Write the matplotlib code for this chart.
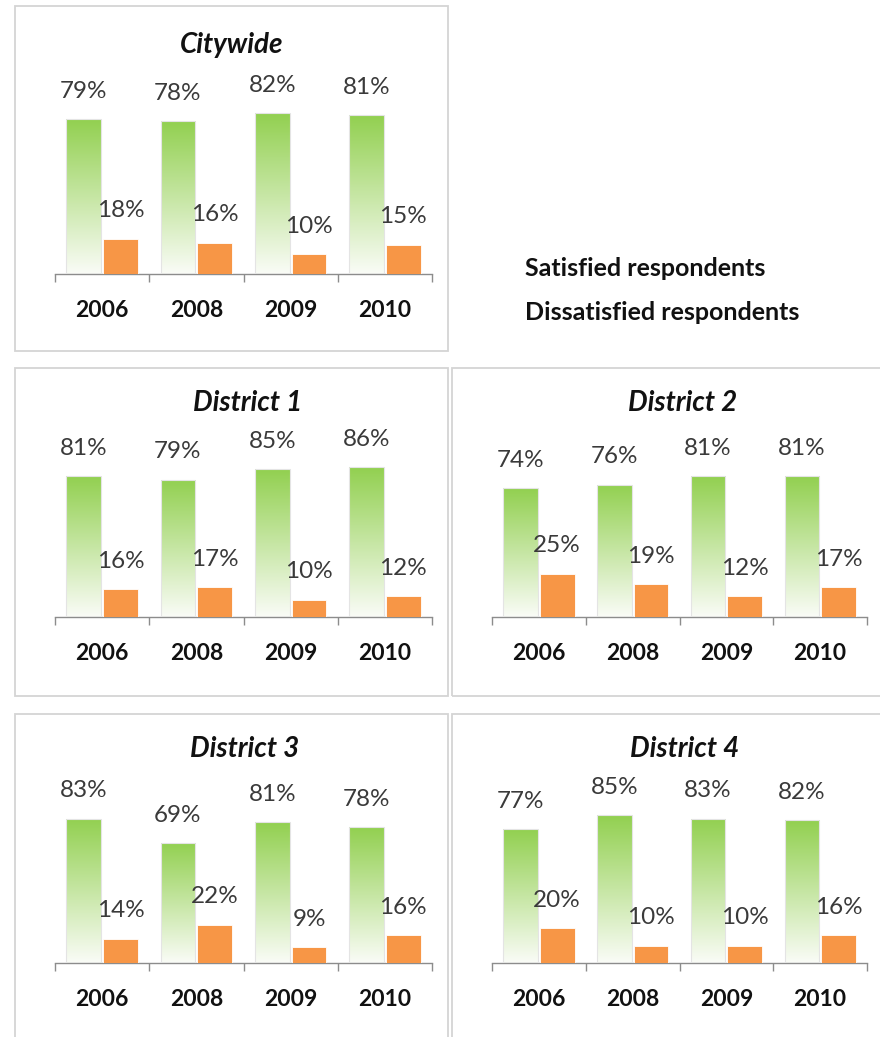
import numpy as np
import matplotlib
matplotlib.use("Agg")
import matplotlib.pyplot as plt
from matplotlib.colors import LinearSegmentedColormap
from matplotlib.patches import Rectangle

plt.rcParams['font.family'] = ['Lato', 'DejaVu Sans']

years = ['2006', '2008', '2009', '2010']
legend_labels = ['Satisfied respondents', 'Dissatisfied respondents']

satisfied_city = [79, 78, 82, 81]
dissatisfied_city = [18, 16, 10, 15]
satisfied_d1 = [81, 79, 85, 86]
dissatisfied_d1 = [16, 17, 10, 12]
satisfied_d2 = [74, 76, 81, 81]
dissatisfied_d2 = [25, 19, 12, 17]
satisfied_d3 = [83, 69, 81, 78]
dissatisfied_d3 = [14, 22, 9, 16]
satisfied_d4 = [77, 85, 83, 82]
dissatisfied_d4 = [20, 10, 10, 16]

W, H = 880, 1037
fig = plt.figure(figsize=(W / 100, H / 100), dpi=100)

green_fade = LinearSegmentedColormap.from_list('fade', ['#fafcf7', '#92d050'])
gradient = np.linspace(0, 1, 256).reshape(-1, 1)
ORANGE = '#f79646'


def fx(px):
    return px / W


def fy(py):
    return 1 - py / H


def frame(x0, y0, x1, y1):
    fig.patches.append(Rectangle((fx(x0), fy(y1)), fx(x1) - fx(x0), fy(y0) - fy(y1),
                                 transform=fig.transFigure, fill=False,
                                 edgecolor='#d4d4d4', lw=1.3))


def panel(title, sat, dis, left, right, base, px_per_pct, title_xy):
    top = base - 100 * px_per_pct
    ax = fig.add_axes([fx(left), fy(base), fx(right) - fx(left), fy(top) - fy(base)])
    x = np.arange(len(years))
    w = 0.37
    gbars = ax.bar(x - 0.195, sat, w, color='none', edgecolor='#e4e4e4', lw=0.8, zorder=3)
    for p in gbars:
        im = ax.imshow(gradient, extent=(p.get_x(), p.get_x() + p.get_width(), 0, p.get_height()),
                       origin='lower', aspect='auto', cmap=green_fade, zorder=2)
        im.set_clip_path(p)
    ax.bar(x + 0.195, dis, w, color=ORANGE, edgecolor='white', lw=0.6, zorder=3)

    for xi, v in zip(x - 0.195, sat):
        ax.annotate(f'{v}%', (xi, v), xytext=(0, 20), textcoords='offset points',
                    ha='center', va='center', fontsize=17.5, color='#3a3a3a', annotation_clip=False)
    for xi, v in zip(x + 0.195, dis):
        ax.annotate(f'{v}%', (xi, v), xytext=(0, 20), textcoords='offset points',
                    ha='center', va='center', fontsize=17.5, color='#3a3a3a', annotation_clip=False)
    for xi, yr in zip(x, years):
        ax.annotate(yr, (xi, 0), xycoords=('data', 'axes fraction'), xytext=(0, -26),
                    textcoords='offset points', ha='center', va='center',
                    fontsize=16.5, fontweight='bold', color='#111111', annotation_clip=False)

    ax.set_xlim(-0.5, 3.5)
    ax.set_ylim(0, 100)
    ax.set_xticks(np.arange(-0.5, 4, 1))
    ax.set_xticklabels([])
    ax.set_yticks([])
    ax.tick_params(axis='x', direction='out', length=6, width=1, color='#8c8c8c')
    for s in ['top', 'right', 'left']:
        ax.spines[s].set_visible(False)
    ax.spines['bottom'].set_color('#8c8c8c')
    ax.spines['bottom'].set_linewidth(1)
    ax.patch.set_alpha(0)

    fig.text(fx(title_xy[0]), fy(title_xy[1]), title, ha='center', va='center',
             fontsize=20, fontweight='bold', fontstyle='italic', color='#111111')


# chart frames
frame(15, 6, 448, 351)
frame(15, 368, 448, 696)
frame(452, 368, 884, 696)
frame(15, 714, 448, 1046)
frame(452, 714, 884, 1046)

panel('Citywide', satisfied_city, dissatisfied_city, 55, 432, 274, 1.96, (232, 45))
panel('District 1', satisfied_d1, dissatisfied_d1, 55, 432, 617, 1.74, (248, 403))
panel('District 2', satisfied_d2, dissatisfied_d2, 492, 867, 617, 1.74, (683, 403))
panel('District 3', satisfied_d3, dissatisfied_d3, 55, 432, 963, 1.74, (245, 749))
panel('District 4', satisfied_d4, dissatisfied_d4, 492, 867, 963, 1.74, (685, 749))

# legend text
fig.text(fx(525), fy(268), legend_labels[0], ha='left', va='center',
         fontsize=18, fontweight='bold', color='#111111')
fig.text(fx(525), fy(313), legend_labels[1], ha='left', va='center',
         fontsize=18, fontweight='bold', color='#111111')

fig.savefig('out.png', dpi=100, facecolor='white')
